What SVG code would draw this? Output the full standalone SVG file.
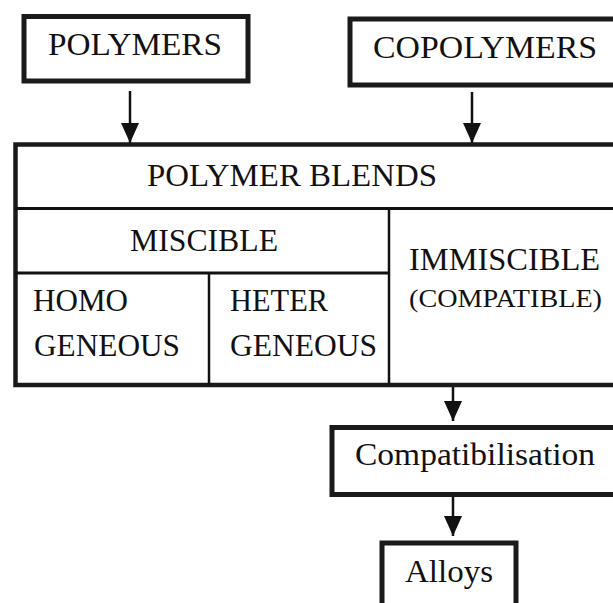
<svg xmlns="http://www.w3.org/2000/svg" width="613" height="603" viewBox="0 0 613 603">
<style>
.box{fill:#fff;stroke:#1a1a1a;stroke-width:5}
.big{fill:#fff;stroke:#1a1a1a;stroke-width:4.5}
.div{stroke:#111;stroke-width:3;fill:none}
.vdiv{stroke:#111;stroke-width:2.5;fill:none}
.t{font-family:"Liberation Serif","Times New Roman",serif;font-size:32px;fill:#111}
.s{font-family:"Liberation Serif","Times New Roman",serif;font-size:25px;fill:#111}
.conn{stroke:#111;stroke-width:2.5;fill:none;marker-end:url(#ah)}
</style>
<defs>
<marker id="ah" markerUnits="userSpaceOnUse" markerWidth="20" markerHeight="18" refX="20" refY="9" orient="auto">
<path d="M0,0 L20,9 L0,18 Z" fill="#111"/>
</marker>
</defs>
<rect width="613" height="603" fill="#fff"/>
<g id="connectors">
<line class="conn" x1="130" y1="91" x2="130" y2="143"/>
<line class="conn" x1="472" y1="92" x2="472" y2="143"/>
<line class="conn" x1="453" y1="387" x2="453" y2="421"/>
<line class="conn" x1="453" y1="497" x2="453" y2="536"/>
</g>
<g id="polymers">
<rect class="box" x="24" y="16.5" width="224" height="64.5"/>
<text class="t" x="48" y="55" textLength="174" lengthAdjust="spacingAndGlyphs">POLYMERS</text>
</g>
<g id="copolymers">
<rect class="box" x="350" y="19" width="290" height="66"/>
<text class="t" x="373" y="58" textLength="224" lengthAdjust="spacingAndGlyphs">COPOLYMERS</text>
</g>
<g id="polymer-blends">
<rect class="big" x="15.5" y="144.5" width="620" height="240.5"/>
<line class="div" x1="15" y1="208.5" x2="613" y2="208.5"/>
<text class="t" x="147" y="186" textLength="290" lengthAdjust="spacingAndGlyphs">POLYMER BLENDS</text>
</g>
<g id="miscible">
<line class="div" x1="15" y1="273" x2="389" y2="273"/>
<line class="vdiv" x1="389" y1="208" x2="389" y2="385"/>
<text class="t" x="130" y="251" textLength="148" lengthAdjust="spacingAndGlyphs">MISCIBLE</text>
</g>
<g id="homogeneous">
<line class="vdiv" x1="209" y1="273" x2="209" y2="385"/>
<text class="t" x="33" y="311" textLength="95" lengthAdjust="spacingAndGlyphs">HOMO</text>
<text class="t" x="34" y="356" textLength="146" lengthAdjust="spacingAndGlyphs">GENEOUS</text>
</g>
<g id="heterogeneous">
<text class="t" x="230" y="311" textLength="98" lengthAdjust="spacingAndGlyphs">HETER</text>
<text class="t" x="230" y="356" textLength="147" lengthAdjust="spacingAndGlyphs">GENEOUS</text>
</g>
<g id="immiscible">
<text class="t" x="409" y="270" textLength="191" lengthAdjust="spacingAndGlyphs">IMMISCIBLE</text>
<text class="s" x="409" y="307" textLength="193" lengthAdjust="spacingAndGlyphs">(COMPATIBLE)</text>
</g>
<g id="compatibilisation">
<rect class="box" x="332" y="427.5" width="300" height="67"/>
<text class="t" x="355" y="465" textLength="240" lengthAdjust="spacingAndGlyphs">Compatibilisation</text>
</g>
<g id="alloys">
<rect class="box" x="382" y="543" width="134" height="80"/>
<text class="t" x="405" y="582" textLength="88" lengthAdjust="spacingAndGlyphs">Alloys</text>
</g>
</svg>
